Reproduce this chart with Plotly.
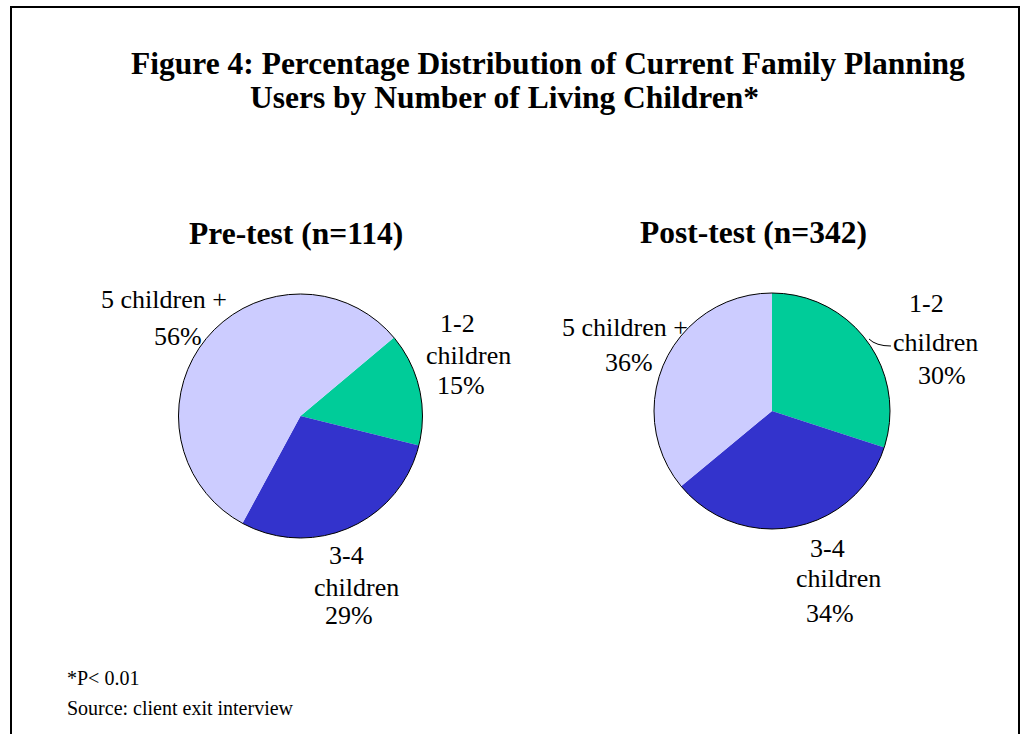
import plotly.graph_objects as go

# Survey results: share of current family planning users by number of living children
categories = ["1-2 children", "3-4 children", "5 children +"]
pre_values = [15, 29, 56]    # Pre-test (n=114)
post_values = [30, 34, 36]   # Post-test (n=342)
pre_n = 114
post_n = 342

colors = ["#00CC99", "#3333CC", "#CCCCFF"]
SERIF = "Liberation Serif, Times New Roman, serif"

W, H = 1026, 734


def px(x):
    return x / W


def py(y):
    return 1 - y / H


pre_domain = dict(x=[px(178), px(423)], y=[py(538), py(294)])
post_domain = dict(x=[px(653), px(891)], y=[py(529), py(293)])

fig = go.Figure()

for vals, rot, dom in ((pre_values, 50, pre_domain), (post_values, 0, post_domain)):
    # Filled slices without dividing strokes
    fig.add_trace(go.Pie(
        labels=categories, values=vals, sort=False,
        direction="clockwise", rotation=rot,
        marker=dict(colors=colors, line=dict(width=0)),
        textinfo="none", hoverinfo="label+percent", showlegend=False,
        domain=dom,
    ))
    # Black outline around the whole pie
    fig.add_trace(go.Pie(
        labels=["total"], values=[sum(vals)], sort=False,
        marker=dict(colors=["rgba(0,0,0,0)"], line=dict(color="black", width=1)),
        textinfo="none", hoverinfo="skip", showlegend=False,
        domain=dom,
    ))

annotations = []


def text(x, y, s, size, anchor="center", bold=False):
    annotations.append(dict(
        x=px(x), y=py(y), xref="paper", yref="paper",
        text=f"<b>{s}</b>" if bold else s, showarrow=False,
        xanchor=anchor, yanchor="middle",
        font=dict(family=SERIF, size=size, color="black"),
    ))


# Main title
text(548, 64, "Figure 4: Percentage Distribution of Current Family Planning", 31.5, bold=True)
text(248, 98, "Users by Number of Living Children*", 31.5, anchor="left", bold=True)

# Pie titles
text(296, 233, f"Pre-test (n={pre_n})", 31.5, bold=True)
text(753, 232, f"Post-test (n={post_n})", 31.5, bold=True)

# Slice labels: category lines then the percentage, positioned per pie
pre_label_pos = {
    "1-2 children": [(457, 323, "1-2"), (468, 355, "children"), (461, 385, None)],
    "3-4 children": [(346, 555, "3-4"), (356, 587, "children"), (349, 615, None)],
    "5 children +": [(164, 299, "5 children +"), (178, 337, None)],
}
post_label_pos = {
    "1-2 children": [(926, 303, "1-2"), (935, 342, "children"), (942, 375, None)],
    "3-4 children": [(827, 548, "3-4"), (838, 578, "children"), (830, 613, None)],
    "5 children +": [(625, 328, "5 children +"), (629, 363, None)],
}

for pos, vals in ((pre_label_pos, pre_values), (post_label_pos, post_values)):
    for cat, v in zip(categories, vals):
        for x, y, s in pos[cat]:
            text(x, y, s if s is not None else f"{v}%", 26)

# Footnotes
text(65, 678, "*P&lt; 0.01", 20, anchor="left")
text(65, 708, "Source: client exit interview", 20, anchor="left")

shapes = [
    # Frame around the figure
    dict(type="rect", xref="paper", yref="paper",
         x0=px(11), x1=px(1019), y0=py(760), y1=py(7),
         line=dict(color="black", width=2), fillcolor="rgba(0,0,0,0)"),
    # Leader line to the post-test "1-2 children" label
    dict(type="path", xref="paper", yref="paper",
         path=f"M {px(869)},{py(339)} Q {px(876)},{py(346)} {px(891)},{py(346)}",
         line=dict(color="black", width=1)),
]

fig.update_layout(
    width=W, height=H,
    margin=dict(l=0, r=0, t=0, b=0),
    paper_bgcolor="white", plot_bgcolor="white",
    annotations=annotations, shapes=shapes,
)

fig.write_html("out.html")
